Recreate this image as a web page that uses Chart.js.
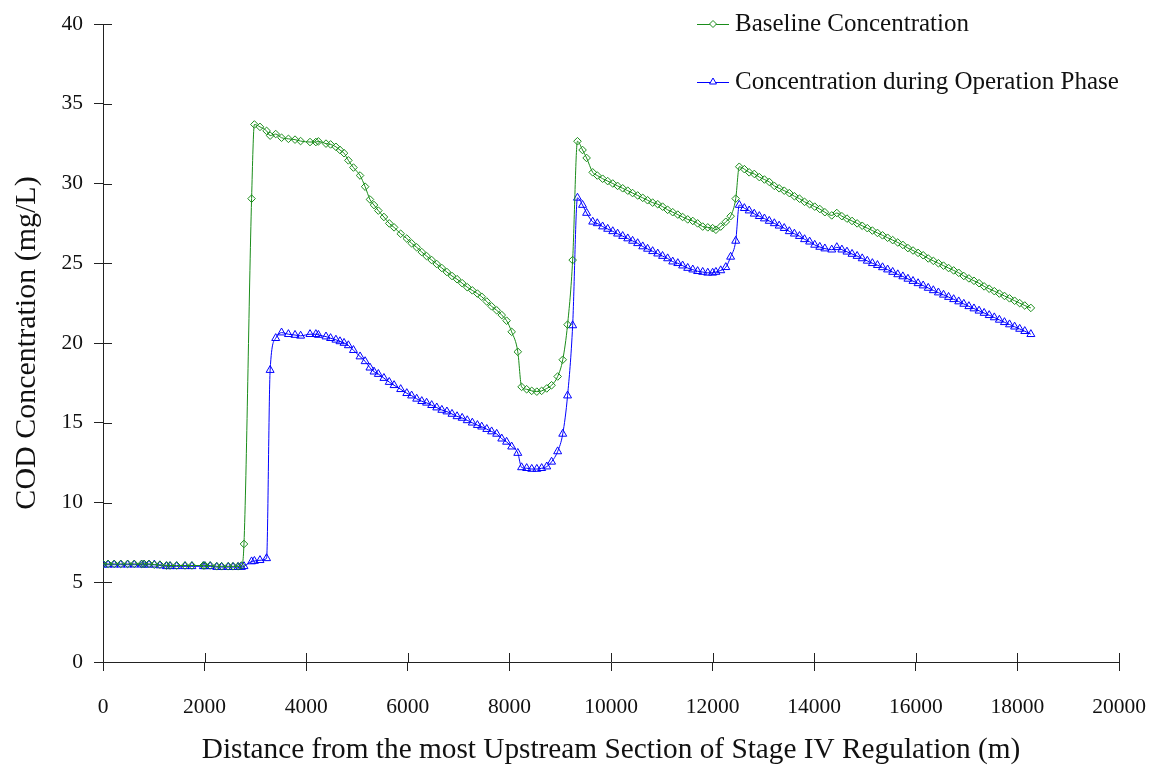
<!DOCTYPE html>
<html>
<head>
<meta charset="utf-8">
<script src="https://cdn.jsdelivr.net/npm/chart.js@4.4.0/dist/chart.umd.min.js"></script>
<style>
  body { margin: 0; background: #fff; }
  #wrap { width: 1158px; height: 771px; }
</style>
</head>
<body>
<div id="wrap"><canvas id="chart"></canvas></div>
<script>
// distance along the river (m), shared by both series
const distance = [
  0, 100, 220, 350, 485, 615, 760, 810, 905, 1010, 1120, 1250, 1320, 1450, 1615, 1750, 1975, 2005, 2110, 2240, 2335, 2465, 2560, 2660, 2725,
  2775, 2925, 2980, 3090, 3220, 3290, 3400, 3515, 3650, 3780, 3890,
  4075, 4190, 4240, 4390, 4480, 4585, 4665, 4745, 4830, 4930, 5060, 5160, 5255, 5335, 5420,
  5530, 5635, 5730, 5860, 5980, 6075, 6175, 6275, 6370, 6470, 6570, 6670, 6770, 6870, 6970, 7070, 7170, 7270, 7370, 7455,
  7555, 7650, 7750, 7850, 7945, 8045, 8165, 8240, 8340, 8440, 8540, 8635, 8735, 8830, 8950, 9050, 9145, 9245,
  9340, 9440, 9520, 9640, 9730, 9835, 9935, 10035, 10130, 10230, 10330, 10425, 10525, 10625, 10720, 10820, 10920, 11015,
  11115, 11215, 11315, 11410, 11510, 11610, 11705, 11805, 11905, 12000, 12065, 12160, 12260, 12355, 12455,
  12525, 12625, 12720, 12820, 12920, 13020, 13115, 13215, 13310, 13410, 13510, 13610, 13710, 13810, 13910, 14010, 14110, 14210, 14345, 14445,
  14545, 14645, 14745, 14845, 14945, 15045, 15145, 15245, 15345, 15445, 15545, 15645, 15745, 15845, 15945, 16045, 16145, 16245, 16345,
  16445, 16545, 16645, 16745, 16845, 16945, 17045, 17145, 17245, 17345, 17445, 17545, 17645, 17745, 17845, 17945, 18045, 18145, 18265
];

const baseline = [
  6.15, 6.15, 6.15, 6.15, 6.15, 6.15, 6.15, 6.15, 6.15, 6.1, 6.1, 6.05, 6.05, 6.05, 6.05, 6.05, 6.05, 6.05, 6.05, 6.0, 6.0, 6.0, 6.0, 6.0, 6.05,
  7.4, 29.05, 33.7, 33.55, 33.3, 33.0, 33.1, 32.87, 32.8, 32.75, 32.66,
  32.6, 32.6, 32.64, 32.5, 32.45, 32.3, 32.1, 31.9, 31.45, 31.0, 30.5, 29.8, 29.0, 28.65, 28.3,
  27.9, 27.5, 27.25, 26.85, 26.55, 26.25, 26.0, 25.7, 25.45, 25.2, 24.95, 24.7, 24.45, 24.2, 24.0, 23.75, 23.5, 23.3, 23.1, 22.9,
  22.6, 22.3, 22.05, 21.75, 21.4, 20.7, 19.45, 17.25, 17.1, 17.0, 16.95, 17.0, 17.15, 17.35, 17.9, 18.95, 21.15, 25.2,
  32.65, 32.1, 31.6, 30.7, 30.5, 30.3, 30.15, 30.0, 29.85, 29.7, 29.55, 29.4, 29.25, 29.1, 28.95, 28.8, 28.7, 28.55,
  28.35, 28.2, 28.05, 27.9, 27.75, 27.65, 27.5, 27.3, 27.25, 27.2, 27.1, 27.3, 27.6, 27.95, 29.05,
  31.05, 30.9, 30.7, 30.6, 30.4, 30.25, 30.1, 29.85, 29.7, 29.55, 29.4, 29.2, 29.05, 28.85, 28.7, 28.55, 28.4, 28.2, 28.0, 28.15,
  27.95, 27.8, 27.65, 27.5, 27.35, 27.2, 27.05, 26.9, 26.75, 26.6, 26.45, 26.3, 26.15, 25.95, 25.8, 25.65, 25.5, 25.3, 25.15,
  25.0, 24.85, 24.7, 24.55, 24.4, 24.2, 24.05, 23.9, 23.75, 23.55, 23.4, 23.25, 23.1, 22.95, 22.8, 22.65, 22.5, 22.35, 22.2
];

const operation = [
  6.1, 6.1, 6.1, 6.1, 6.1, 6.1, 6.1, 6.1, 6.1, 6.1, 6.05, 6.0, 6.0, 6.0, 6.0, 6.0, 6.0, 6.0, 6.0, 5.95, 5.95, 5.95, 5.95, 5.95, 5.95,
  6.0, 6.3, 6.33, 6.38, 6.5, 18.3, 20.3, 20.65, 20.55, 20.5, 20.45,
  20.55, 20.55, 20.5, 20.4, 20.3, 20.2, 20.1, 20.0, 19.85, 19.55, 19.15, 18.85, 18.45, 18.2, 18.05,
  17.8, 17.55, 17.35, 17.1, 16.85, 16.7, 16.5, 16.35, 16.25, 16.1, 15.95, 15.8, 15.7, 15.55, 15.4, 15.3, 15.15, 15.0, 14.85, 14.75,
  14.6, 14.45, 14.3, 14.0, 13.8, 13.5, 13.1, 12.2, 12.15, 12.1, 12.1, 12.15, 12.25, 12.55, 13.2, 14.3, 16.7, 21.1,
  29.1, 28.65, 28.15, 27.6, 27.5, 27.3, 27.15, 27.0, 26.85, 26.7, 26.55, 26.4, 26.25, 26.05, 25.9, 25.75, 25.6, 25.45,
  25.3, 25.1, 25.0, 24.85, 24.7, 24.6, 24.5, 24.45, 24.4, 24.4, 24.45, 24.55, 24.75, 25.4, 26.4,
  28.65, 28.45, 28.3, 28.1, 27.95, 27.8, 27.65, 27.5, 27.35, 27.2, 27.0, 26.85, 26.7, 26.5, 26.35, 26.15, 26.02, 25.92, 25.85, 26.0,
  25.85, 25.72, 25.58, 25.45, 25.3, 25.15, 25.0, 24.88, 24.74, 24.6, 24.45, 24.3, 24.17, 24.02, 23.88, 23.74, 23.6, 23.45, 23.3,
  23.16, 23.02, 22.88, 22.74, 22.6, 22.45, 22.3, 22.16, 22.02, 21.88, 21.74, 21.6, 21.45, 21.3, 21.16, 21.02, 20.88, 20.74, 20.55
];

const seriesNames = ['Baseline Concentration', 'Concentration during Operation Phase'];

const FONT = '"Palatino Linotype", "Book Antiqua", Palatino, "Liberation Serif", serif';
const GREEN = '#1a8c1a';
const BLUE = '#0000ff';

// tick marks that cross the axis line, like the original figure
const crossTicks = {
  id: 'crossTicks',
  afterDraw(chart) {
    const ctx = chart.ctx;
    const x = chart.scales.x, y = chart.scales.y;
    ctx.save();
    ctx.strokeStyle = '#222';
    ctx.lineWidth = 1;
    ctx.beginPath();
    x.ticks.forEach(t => {
      const px = Math.round(x.getPixelForValue(t.value)) + 0.5;
      ctx.moveTo(px, y.bottom);
      ctx.lineTo(px, y.bottom - 9);
    });
    y.ticks.forEach(t => {
      const py = Math.round(y.getPixelForValue(t.value)) + 0.5;
      ctx.moveTo(x.left, py);
      ctx.lineTo(x.left + 9, py);
    });
    ctx.stroke();
    ctx.restore();
  }
};

// legend inside the plot, top right
const insideLegend = {
  id: 'insideLegend',
  afterDraw(chart) {
    const ctx = chart.ctx;
    const rows = [24, 82];
    ctx.save();
    chart.data.datasets.forEach((ds, i) => {
      const yy = rows[i];
      ctx.strokeStyle = ds.borderColor;
      ctx.lineWidth = 1;
      ctx.beginPath();
      ctx.moveTo(697, yy + 0.5);
      ctx.lineTo(729, yy + 0.5);
      ctx.stroke();
      ctx.fillStyle = '#fff';
      ctx.strokeStyle = ds.pointBorderColor;
      Chart.helpers.drawPoint(ctx, {
        pointStyle: ds.pointStyle, radius: ds.pointStyle === 'triangle' ? 4 : 3.5,
        borderWidth: 1, rotation: 0
      }, 713, yy);
      ctx.fillStyle = '#111';
      ctx.font = '25px ' + FONT;
      ctx.textBaseline = 'middle';
      ctx.textAlign = 'left';
      ctx.fillText(ds.label, 735, yy);
    });
    ctx.restore();
  }
};

new Chart(document.getElementById('chart'), {
  type: 'scatter',
  data: {
    datasets: [
      {
        label: seriesNames[0],
        data: distance.map((d, i) => ({ x: d, y: baseline[i] })),
        showLine: true,
        borderColor: GREEN,
        borderWidth: 1,
        pointStyle: 'rectRot',
        pointRadius: 3.8,
        pointBorderColor: GREEN,
        pointBackgroundColor: 'rgba(255,255,255,0)',
        pointBorderWidth: 1,
        cubicInterpolationMode: 'monotone'
      },
      {
        label: seriesNames[1],
        data: distance.map((d, i) => ({ x: d, y: operation[i] })),
        showLine: true,
        borderColor: BLUE,
        borderWidth: 1,
        pointStyle: 'triangle',
        pointRadius: 4.6,
        pointBorderColor: BLUE,
        pointBackgroundColor: 'rgba(255,255,255,0)',
        pointBorderWidth: 1,
        cubicInterpolationMode: 'monotone'
      }
    ]
  },
  options: {
    responsive: true,
    maintainAspectRatio: false,
    animation: false,
    layout: { padding: { left: 0, top: 24, right: 39, bottom: 0 } },
    plugins: {
      legend: { display: false },
      tooltip: { enabled: false }
    },
    scales: {
      x: {
        type: 'linear',
        min: 0,
        max: 20000,
        afterFit: s => { s.height = 109; s.paddingLeft = 0; s.paddingRight = 0; },
        ticks: {
          stepSize: 2000,
          padding: 23,
          color: '#111',
          font: { family: FONT, size: 21.5 },
          callback: v => String(v)
        },
        grid: { drawOnChartArea: false, tickLength: 9, color: '#222' },
        border: { color: '#222', width: 1 },
        title: {
          display: true,
          text: 'Distance from the most Upstream Section of Stage IV Regulation (m)',
          color: '#111',
          font: { family: FONT, size: 29.3 },
          padding: { top: 0, bottom: 3 }
        }
      },
      y: {
        type: 'linear',
        min: 0,
        max: 40,
        afterFit: s => { s.width = 103; },
        ticks: {
          stepSize: 5,
          padding: 11,
          color: '#111',
          font: { family: FONT, size: 21.5 },
          callback: v => String(v)
        },
        grid: { drawOnChartArea: false, tickLength: 9, color: '#222' },
        border: { color: '#222', width: 1 },
        title: {
          display: true,
          text: 'COD Concentration (mg/L)',
          color: '#111',
          font: { family: FONT, size: 30 },
          padding: { top: 9, bottom: 0 }
        }
      }
    }
  },
  plugins: [crossTicks, insideLegend]
});
</script>
</body>
</html>
